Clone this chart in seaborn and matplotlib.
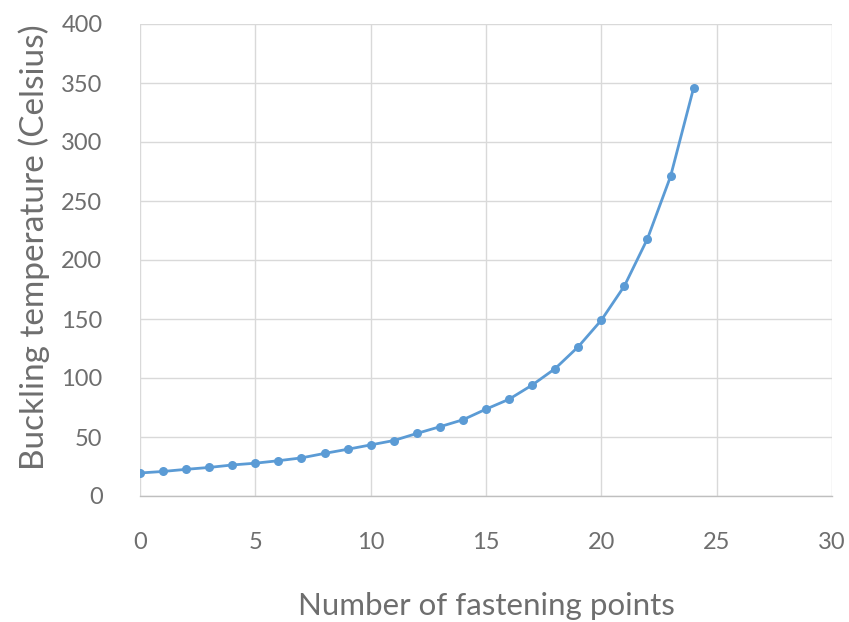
import pandas as pd
import matplotlib.pyplot as plt
import seaborn as sns

points = list(range(25))
temperature = [19.5, 20.8, 22.6, 24.2, 26.3, 27.8, 29.9, 32.3, 36.1, 39.6,
               43.3, 47.0, 53.0, 58.7, 64.6, 73.6, 82.0, 94.0, 108.0, 126.5,
               149.0, 178.0, 218.0, 270.8, 345.8]

x_ticks = [0, 5, 10, 15, 20, 25, 30]
y_ticks = [0, 50, 100, 150, 200, 250, 300, 350, 400]

df = pd.DataFrame({"points": points, "temp": temperature})

sns.set_style("white")
plt.rcParams["font.family"] = ["Lato", "DejaVu Sans"]

text_grey = "#6E6E6E"
blue = "#5B9BD5"

fig = plt.figure(figsize=(8.49, 6.22), dpi=100)
ax = fig.add_axes([140 / 849, 1 - 496 / 622, 692 / 849, 472 / 622])

sns.lineplot(data=df, x="points", y="temp", ax=ax, color=blue, linewidth=2,
             marker="o", markersize=6.5, markeredgewidth=0, zorder=3)

ax.set_xlim(0, 30)
ax.set_ylim(0, 400)
ax.set_xticks(x_ticks)
ax.set_yticks(y_ticks)
ax.grid(True, color="#D9D9D9", linewidth=1)
for side in ["top", "right", "left"]:
    ax.spines[side].set_visible(False)
ax.spines["bottom"].set_color("#BFBFBF")
ax.spines["bottom"].set_linewidth(1)

ax.tick_params(axis="x", length=0, pad=26, labelsize=17, labelcolor=text_grey)
ax.tick_params(axis="y", length=0, pad=27, labelsize=17, labelcolor=text_grey)

ax.set_xlabel("Number of fastening points", fontsize=22.5, color=text_grey,
              labelpad=28)
ax.set_ylabel("Buckling temperature (Celsius)", fontsize=24, color=text_grey,
              labelpad=8)
ax.yaxis.label.set_y(0.527)

plt.savefig("out.png", dpi=100)
plt.close()
